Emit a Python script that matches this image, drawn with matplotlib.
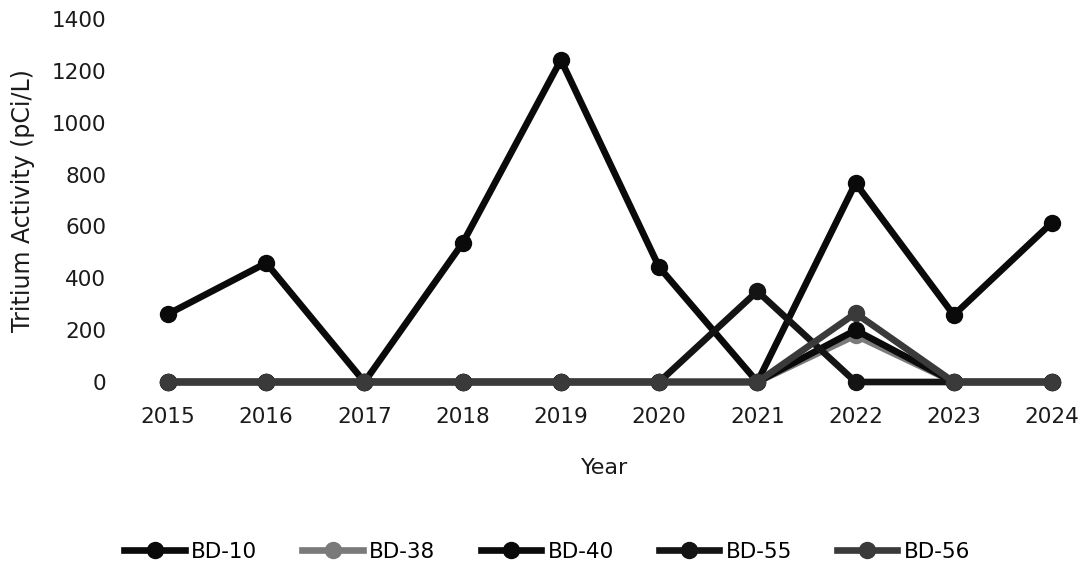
import matplotlib.pyplot as plt

years = [2015, 2016, 2017, 2018, 2019, 2020, 2021, 2022, 2023, 2024]
bd10 = [262, 459, 0, 536, 1242, 443, 0, 767, 258, 615]
bd38 = [0, 0, 0, 0, 0, 0, 0, 180, 0, 0]
bd40 = [0, 0, 0, 0, 0, 0, 0, 200, 0, 0]
bd55 = [0, 0, 0, 0, 0, 0, 350, 0, 0, 0]
bd56 = [0, 0, 0, 0, 0, 0, 0, 265, 0, 0]

series = [
    ('BD-10', bd10, '#0a0a0a'),
    ('BD-38', bd38, '#7a7a7a'),
    ('BD-40', bd40, '#0a0a0a'),
    ('BD-55', bd55, '#141414'),
    ('BD-56', bd56, '#3a3a3a'),
]

plt.rcParams['font.family'] = 'DejaVu Sans'
fig = plt.figure(figsize=(10.86, 5.66), dpi=100)
ax = fig.add_axes([0.1197, 0.3251, 0.8748, 0.6413])

lines = []
for name, vals, col in series:
    ln, = ax.plot(years, vals, color=col, lw=4.8, marker='o', ms=11.5,
                  label=name, clip_on=False, solid_joinstyle='miter')
    lines.append(ln)

ax.set_xlim(2014.613, 2024.285)
ax.set_ylim(0, 1400)
ax.set_yticks(range(0, 1401, 200))
ax.set_xticks(years)
for s in ax.spines.values():
    s.set_visible(False)
ax.tick_params(length=0, labelsize=15.5, colors='#1a1a1a')
ax.tick_params(axis='y', pad=17)
ax.tick_params(axis='x', pad=18)
ax.set_ylabel('Tritium Activity (pCi/L)', fontsize=17, color='#1a1a1a', labelpad=12)
ax.set_xlabel('Year', fontsize=16, color='#1a1a1a', labelpad=22)

fig.legend(handles=lines, loc='center', bbox_to_anchor=(0.504, 0.025),
           ncol=5, frameon=False, fontsize=15.5, handlelength=2.8,
           columnspacing=2.1, handletextpad=0.3)

fig.savefig('out.png', dpi=100)
